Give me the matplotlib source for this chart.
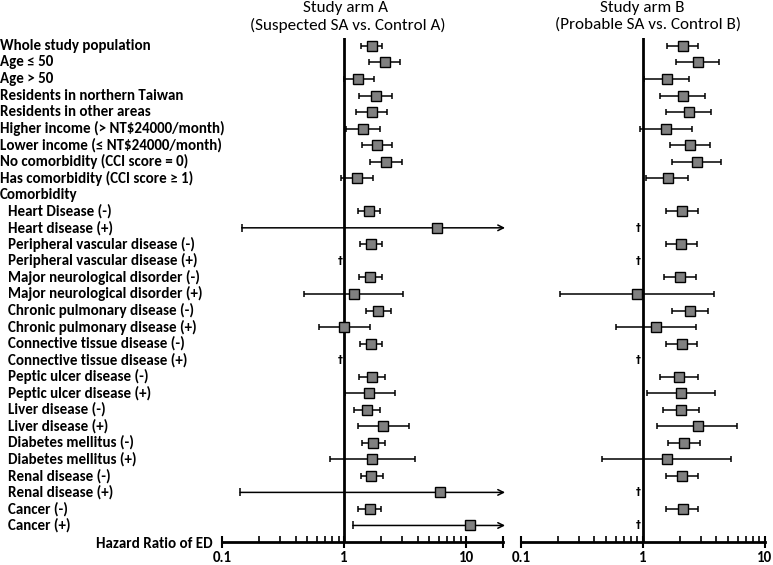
import numpy as np
import matplotlib
matplotlib.use("Agg")
import matplotlib.pyplot as plt
from matplotlib.transforms import blended_transform_factory

plt.rcParams['font.family'] = ['Carlito', 'Lato', 'DejaVu Sans']

labels = [
    "Whole study population", "Age ≤ 50", "Age > 50",
    "Residents in northern Taiwan", "Residents in other areas",
    "Higher income (> NT$24000/month)", "Lower income (≤ NT$24000/month)",
    "No comorbidity (CCI score = 0)", "Has comorbidity (CCI score ≥ 1)",
    "Comorbidity",
    "Heart Disease (-)", "Heart disease (+)",
    "Peripheral vascular disease (-)", "Peripheral vascular disease (+)",
    "Major neurological disorder (-)", "Major neurological disorder (+)",
    "Chronic pulmonary disease (-)", "Chronic pulmonary disease (+)",
    "Connective tissue disease (-)", "Connective tissue disease (+)",
    "Peptic ulcer disease (-)", "Peptic ulcer disease (+)",
    "Liver disease (-)", "Liver disease (+)",
    "Diabetes mellitus (-)", "Diabetes mellitus (+)",
    "Renal disease (-)", "Renal disease (+)",
    "Cancer (-)", "Cancer (+)",
]
indented = [False] * 10 + [True] * 20

nan = np.nan
# Study arm A: HR, lower CI, upper CI (nan = not estimable, shown as dagger; upper > axis max drawn as arrow)
hrA = [1.68, 2.18, 1.31, 1.83, 1.68, 1.43, 1.86, 2.20, 1.28, nan,
       1.61, 5.79, 1.66, nan, 1.63, 1.20, 1.90, 1.00, 1.66, nan,
       1.69, 1.61, 1.54, 2.08, 1.73, 1.70, 1.67, 6.06, 1.62, 10.7]
loA = [1.37, 1.61, 0.99, 1.33, 1.26, 1.03, 1.40, 1.63, 0.95, nan,
       1.31, 0.145, 1.34, nan, 1.32, 0.47, 1.51, 0.625, 1.36, nan,
       1.33, 1.02, 1.21, 1.29, 1.40, 0.77, 1.37, 0.141, 1.30, 1.18]
hiA = [2.06, 2.87, 1.76, 2.48, 2.23, 1.96, 2.45, 2.96, 1.74, nan,
       1.98, 40.0, 2.03, nan, 2.03, 3.02, 2.41, 1.63, 2.04, nan,
       2.15, 2.60, 1.98, 3.38, 2.15, 3.80, 2.07, 40.0, 2.02, 40.0]
daggerA = [13, 19]

# Study arm B
hrB = [2.11, 2.82, 1.57, 2.11, 2.38, 1.53, 2.43, 2.77, 1.59, nan,
       2.08, nan, 2.06, nan, 2.01, 0.89, 2.41, 1.28, 2.07, nan,
       1.97, 2.03, 2.03, 2.82, 2.18, 1.56, 2.08, nan, 2.11, nan]
loB = [1.57, 1.86, 1.02, 1.37, 1.53, 0.94, 1.66, 1.72, 1.06, nan,
       1.53, nan, 1.54, nan, 1.48, 0.209, 1.74, 0.605, 1.54, nan,
       1.39, 1.07, 1.45, 1.31, 1.60, 0.46, 1.55, nan, 1.55, nan]
hiB = [2.80, 4.16, 2.39, 3.24, 3.60, 2.52, 3.51, 4.35, 2.35, nan,
       2.82, nan, 2.75, nan, 2.72, 3.79, 3.40, 2.72, 2.79, nan,
       2.80, 3.86, 2.87, 5.92, 2.96, 5.25, 2.83, nan, 2.83, nan]
daggerB = [11, 13, 19, 27, 29]

tick_vals = [0.1, 1, 10]
tick_labels = ["0.1", "1", "10"]

W, H = 773, 565
fig = plt.figure(figsize=(W / 100, H / 100), dpi=100)

def fx(px):
    return px / W

def fy(py):
    return 1 - py / H

n = len(labels)
ybot, ytop = 30.0, -0.48
axA = fig.add_axes([fx(222), fy(542), fx(503) - fx(222), fy(38) - fy(542)])
axB = fig.add_axes([fx(521), fy(542), fx(765) - fx(521), fy(38) - fy(542)])

def setup(ax, xmin, xmax, minor):
    ax.set_xscale('log')
    ax.set_xlim(xmin, xmax)
    ax.set_ylim(ybot, ytop)
    ax.patch.set_alpha(0)
    for s in ['top', 'left', 'right']:
        ax.spines[s].set_visible(False)
    ax.spines['bottom'].set_linewidth(2.0)
    ax.set_yticks([])
    extra = [xmax] if xmax not in tick_vals else []
    ax.xaxis.set_major_locator(matplotlib.ticker.FixedLocator(tick_vals + extra))
    ax.xaxis.set_minor_locator(matplotlib.ticker.FixedLocator(minor))
    ax.xaxis.set_minor_formatter(matplotlib.ticker.NullFormatter())
    ax.set_xticklabels(tick_labels + [""] * len(extra), fontsize=10.8, fontweight='bold')
    ax.tick_params(axis='x', which='major', direction='inout', length=9, width=1.5, pad=2)
    ax.tick_params(axis='x', which='minor', direction='in', length=4, width=1.2)
    ax.axvline(1, color='black', lw=2.0, zorder=2)

minorA = [v * d for d in (0.1, 1) for v in range(2, 10)]
setup(axA, 0.1, 20, minorA)
setup(axB, 0.1, 10, minorA)

def draw(ax, hr, lo, hi, daggers, xmax, dagger_x):
    for i in range(n):
        if np.isnan(hr[i]):
            continue
        h = hi[i]
        if h > xmax:
            ax.annotate("", xy=(xmax * 1.04, i), xytext=(lo[i], i),
                        arrowprops=dict(arrowstyle='->', color='black', lw=1.1,
                                        shrinkA=0, shrinkB=0, mutation_scale=10),
                        annotation_clip=False, zorder=3)
            ax.plot([lo[i]], [i], marker='|', color='black', ms=6, mew=1.1, zorder=3)
        else:
            ax.errorbar([hr[i]], [i], xerr=[[hr[i] - lo[i]], [h - hr[i]]],
                        fmt='none', ecolor='black', elinewidth=1.1, capsize=2.5,
                        capthick=1.1, zorder=3)
        ax.plot([hr[i]], [i], marker='s', ms=6.5, mfc='#808080', mec='black',
                mew=1.0, zorder=4, clip_on=False)
    for i in daggers:
        ax.text(dagger_x, i, "†", ha='center', va='center', fontsize=7,
                fontweight='bold', family=['DejaVu Sans'], zorder=4)

draw(axA, hrA, loA, hiA, daggerA, 20, 0.92)
draw(axB, hrB, loB, hiB, daggerB, 10, 0.905)

# Row labels (x in figure coords, y in data rows)
trans = blended_transform_factory(fig.transFigure, axA.transData)
for i, (lab, ind) in enumerate(zip(labels, indented)):
    fig.text(fx(8) if ind else fx(0), i, lab, transform=trans, fontsize=10.8,
             fontweight='bold', ha='left', va='center')

fig.text(fx(213), fy(544), "Hazard Ratio of ED", fontsize=10.8, fontweight='bold',
         ha='right', va='center')

# Titles
fig.text(fx(345.5), fy(8), "Study arm A", fontsize=12.3, ha='center', va='center')
fig.text(fx(348), fy(25), "(Suspected SA vs. Control A)", fontsize=12.3, ha='center', va='center')
fig.text(fx(642), fy(8), "Study arm B", fontsize=12.3, ha='center', va='center')
fig.text(fx(648), fy(25), "(Probable SA vs. Control B)", fontsize=12.3, ha='center', va='center')

fig.savefig("out.png", dpi=100)
